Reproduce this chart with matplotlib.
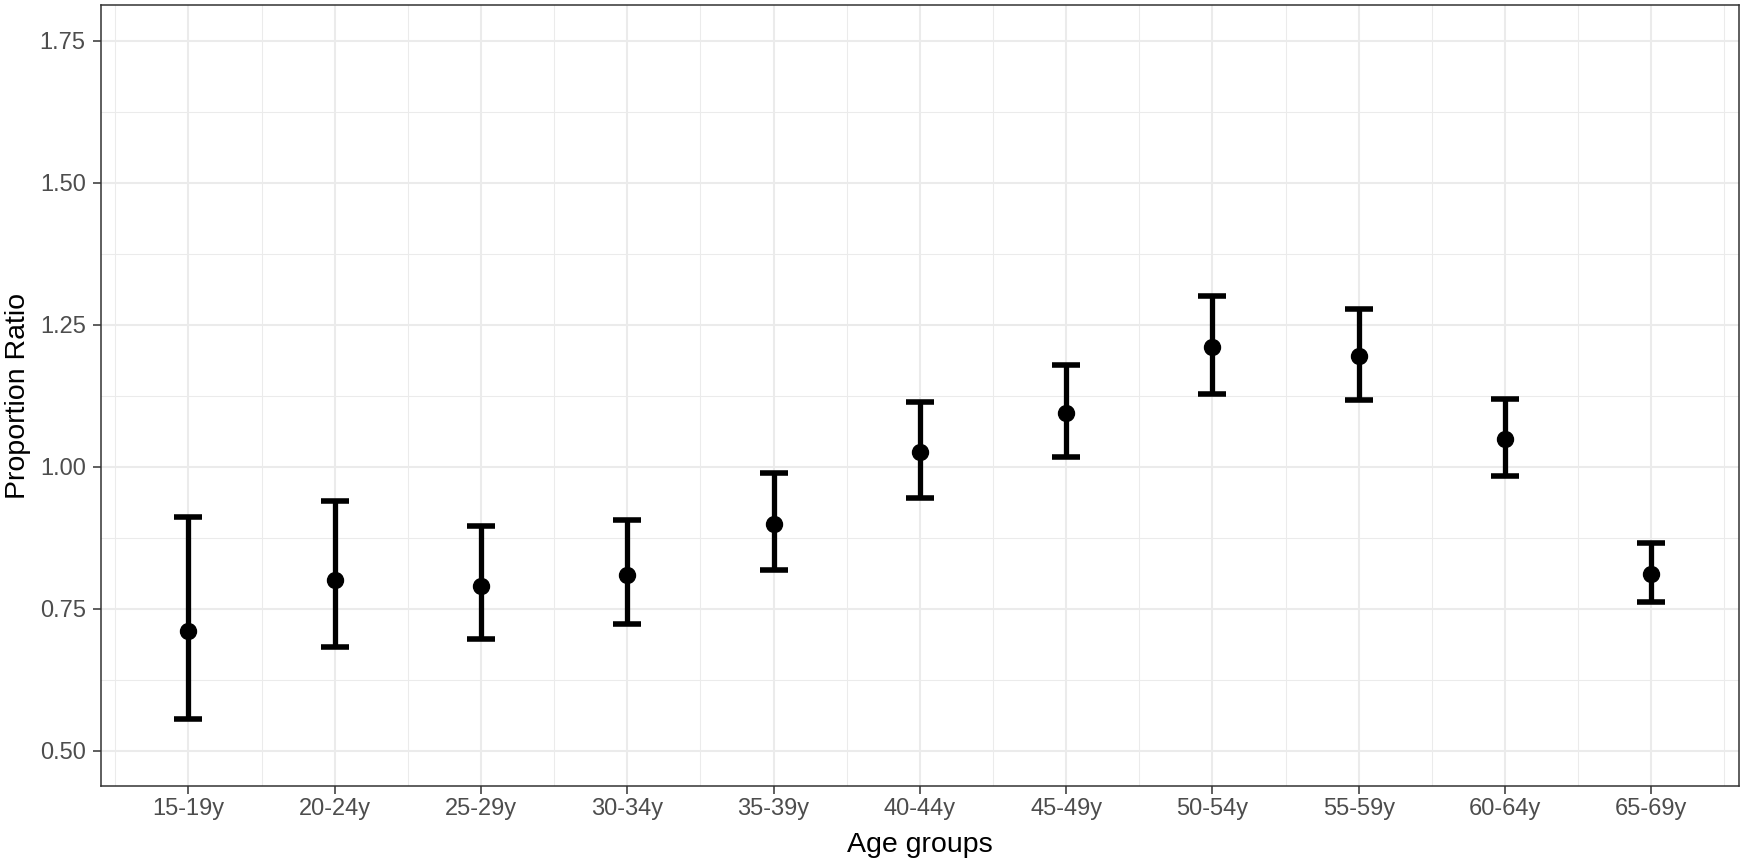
import matplotlib
matplotlib.use("Agg")
import matplotlib.pyplot as plt
import numpy as np

plt.rcParams['font.family'] = ['Liberation Sans', 'DejaVu Sans']

categories = ['15-19y', '20-24y', '25-29y', '30-34y', '35-39y', '40-44y',
              '45-49y', '50-54y', '55-59y', '60-64y', '65-69y']
ratio = [0.711, 0.800, 0.790, 0.809, 0.899, 1.025, 1.094, 1.211, 1.194, 1.049, 0.811]
lower = [0.556, 0.682, 0.696, 0.722, 0.817, 0.944, 1.016, 1.128, 1.117, 0.983, 0.761]
upper = [0.911, 0.940, 0.896, 0.906, 0.988, 1.113, 1.179, 1.301, 1.278, 1.119, 0.865]
yticks = [0.50, 0.75, 1.00, 1.25, 1.50, 1.75]
ytick_labels = ['0.50', '0.75', '1.00', '1.25', '1.50', '1.75']

W, H = 1744, 859
fig = plt.figure(figsize=(W / 100, H / 100), dpi=100)
left, right, top, bottom = 100.7, 1739, 5, 786
ax = fig.add_axes([left / W, (H - bottom) / H, (right - left) / W, (bottom - top) / H])

x = np.arange(len(categories))
ratio_a = np.array(ratio)
yerr = np.vstack([ratio_a - np.array(lower), np.array(upper) - ratio_a])

ax.errorbar(x, ratio_a, yerr=yerr, fmt='o', color='black', ecolor='black',
            elinewidth=3.8, capsize=10.3, capthick=4.0, markersize=11.5, zorder=3)

ax.set_xlim(-0.6, len(categories) - 1 + 0.6)
ax.set_ylim(0.4375, 1.8125)
ax.set_xticks(x)
ax.set_xticklabels(categories)
ax.set_yticks(yticks)
ax.set_yticklabels(ytick_labels)
ax.set_xticks(np.arange(-0.5, len(categories) + 0.5, 1.0), minor=True)
ax.set_yticks([0.625, 0.875, 1.125, 1.375, 1.625], minor=True)

ax.set_axisbelow(True)
ax.grid(which='major', color='#EBEBEB', linewidth=1.45)
ax.grid(which='minor', color='#EBEBEB', linewidth=0.75)

for s in ax.spines.values():
    s.set_color('#333333')
    s.set_linewidth(1.1)

ax.tick_params(which='major', length=5.8, width=1.1, color='#333333',
               labelcolor='#4D4D4D', labelsize=17)
ax.tick_params(axis='x', which='major', pad=2.5)
ax.tick_params(axis='y', which='major', pad=5)
ax.tick_params(which='minor', length=0, width=0)

fig.text(919.9 / W, (H - 851.7) / H, 'Age groups', ha='center', va='baseline',
         fontsize=20.5, color='black')
fig.text(25 / W, (H - (top + bottom) / 2) / H, 'Proportion Ratio', rotation=90,
         rotation_mode='anchor', ha='center', va='baseline', fontsize=20.5, color='black')

fig.savefig('out.png', dpi=100, facecolor='white')
